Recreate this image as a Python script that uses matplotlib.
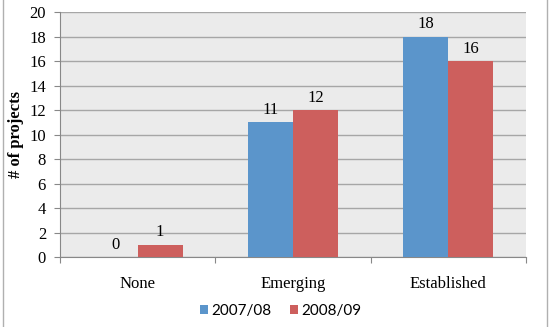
import numpy as np
import matplotlib.pyplot as plt
from matplotlib.lines import Line2D

# Projects by status, two school years
categories = ['None', 'Emerging', 'Established']
y2007 = [0, 11, 18]
y2008 = [1, 12, 16]
series_names = ['2007/08', '2008/09']

plt.rcParams['font.family'] = ['Liberation Serif', 'DejaVu Serif']
fs = 12

fig = plt.figure(figsize=(5.5, 3.27), dpi=100)
ax = fig.add_axes([0.109, 0.214, 0.847, 0.749])

x = np.arange(len(categories))
w = 0.29
blue = '#5b95cb'
red = '#cd5f5d'
b1 = ax.bar(x - w/2, y2007, w, color=blue, label=series_names[0], zorder=3)
b2 = ax.bar(x + w/2, y2008, w, color=red, label=series_names[1], zorder=3)

for bars, vals in [(b1, y2007), (b2, y2008)]:
    for rect, v in zip(bars, vals):
        ax.text(rect.get_x() + rect.get_width()/2, v + 0.35, str(v),
                ha='center', va='bottom', fontsize=fs)

ax.set_facecolor('#ebebeb')
ax.set_xlim(-0.5, 2.5)
ax.set_ylim(0, 20)
ax.set_yticks(range(0, 21, 2))
ax.yaxis.grid(True, color='#a6a6a6', linewidth=1, zorder=0)
ax.set_axisbelow(True)

# category boundary ticks on the x axis
ax.set_xticks([-0.5, 0.5, 1.5, 2.5])
ax.set_xticklabels([])
ax.set_xticks(x, minor=True)
ax.set_xticklabels(categories, minor=True, fontsize=fs)
ax.tick_params(axis='x', which='minor', length=0, pad=14)
ax.tick_params(axis='x', which='major', length=4, color='#888888')
ax.tick_params(axis='y', length=4, color='#888888', labelsize=fs, pad=6)

for s in ['top', 'right']:
    ax.spines[s].set_visible(False)
for s in ['left', 'bottom']:
    ax.spines[s].set_color('#888888')

ax.set_ylabel('# of projects', fontsize=fs, fontweight='bold', labelpad=4)

fig.legend(handles=[b1, b2], loc='center', bbox_to_anchor=(0.51, 0.05), ncol=2,
           frameon=False, prop={'family': 'Lato', 'size': 11},
           handlelength=0.55, handleheight=0.55,
           handletextpad=0.2, columnspacing=1.2)

# thin side rules of the chart frame
for fx in (0.006, 0.994):
    fig.add_artist(Line2D([fx, fx], [0, 1], transform=fig.transFigure,
                          color='#b0b0b0', linewidth=1))

fig.savefig('out.png', dpi=100)
